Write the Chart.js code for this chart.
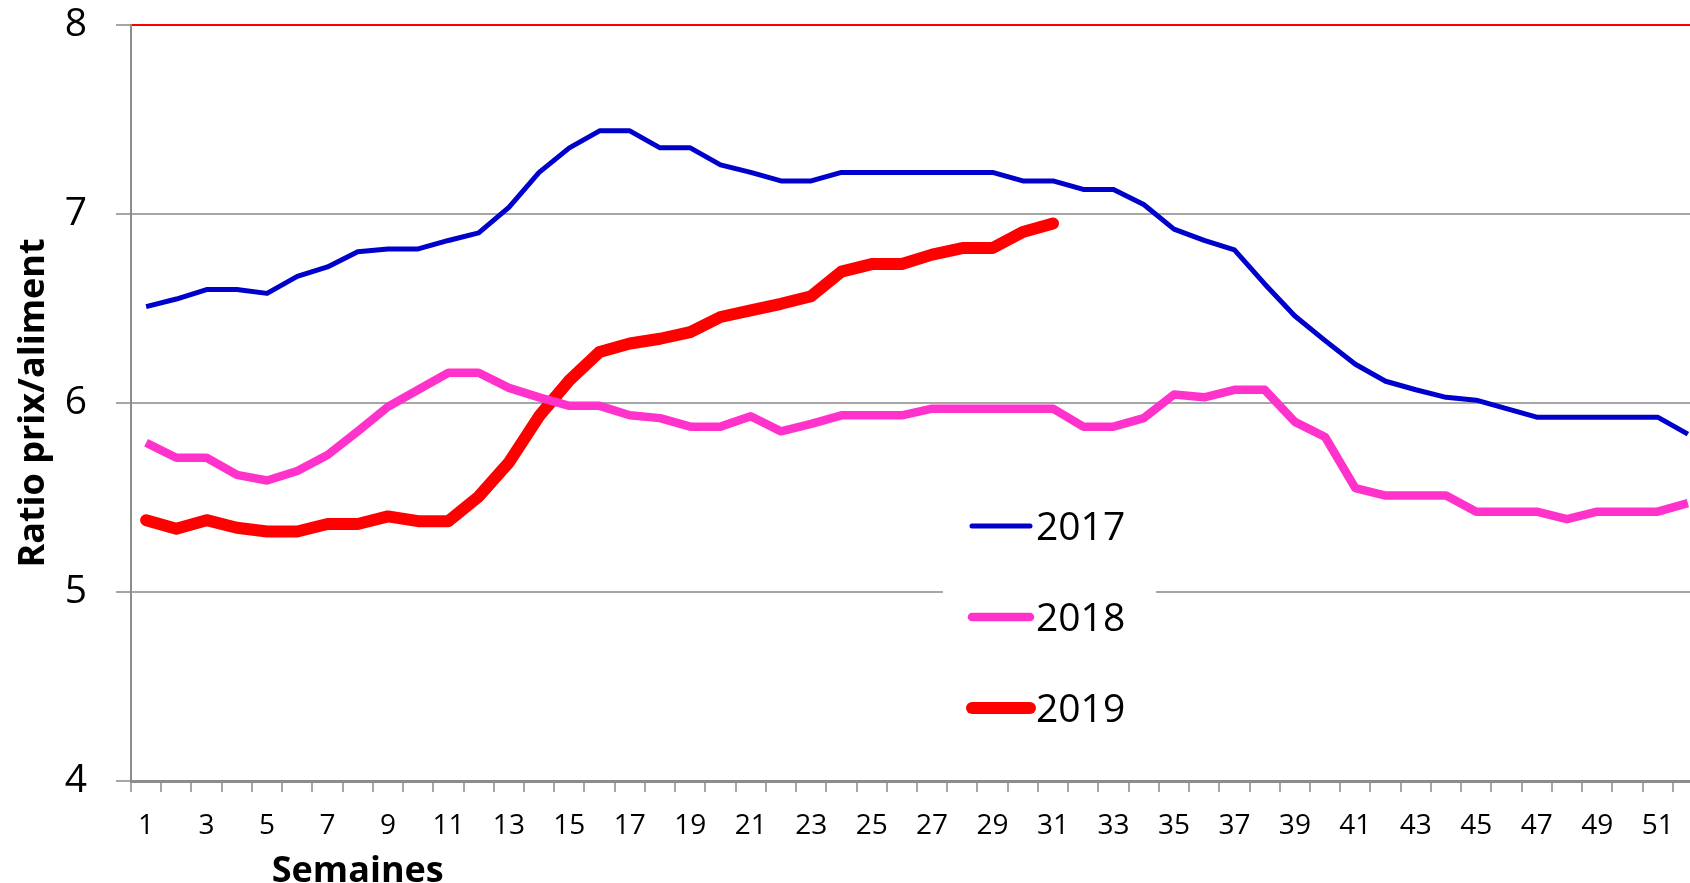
<!DOCTYPE html>
<html>
<head>
<meta charset="utf-8">
<script src="https://cdn.jsdelivr.net/npm/chart.js@4"></script>
<style>
  html, body { margin: 0; padding: 0; background: #fff; overflow: hidden; }
  #wrap { position: relative; width: 1720px; height: 883px; }
</style>
</head>
<body>
<div id="wrap"><canvas id="ratioChart" width="1720" height="883"></canvas></div>
<script>
// --- Data ---
const weeks = Array.from({ length: 52 }, (_, i) => String(i + 1));

const ratio2017 = [
  6.51, 6.55, 6.60, 6.60, 6.58, 6.67, 6.72, 6.80, 6.815, 6.815,
  6.86, 6.90, 7.035, 7.22, 7.35, 7.44, 7.44, 7.35, 7.35, 7.26,
  7.22, 7.175, 7.175, 7.22, 7.22, 7.22, 7.22, 7.22, 7.22, 7.175,
  7.175, 7.13, 7.13, 7.05, 6.92, 6.86, 6.81, 6.63, 6.46, 6.33,
  6.205, 6.115, 6.07, 6.03, 6.015, 5.97, 5.925, 5.925, 5.925, 5.925,
  5.925, 5.835
];

const ratio2018 = [
  5.79, 5.71, 5.71, 5.62, 5.59, 5.64, 5.725, 5.85, 5.98, 6.07,
  6.16, 6.16, 6.08, 6.03, 5.985, 5.985, 5.935, 5.92, 5.875, 5.875,
  5.93, 5.85, 5.89, 5.935, 5.935, 5.935, 5.97, 5.97, 5.97, 5.97,
  5.97, 5.875, 5.875, 5.92, 6.045, 6.03, 6.07, 6.07, 5.90, 5.82,
  5.55, 5.51, 5.51, 5.51, 5.425, 5.425, 5.425, 5.385, 5.425, 5.425,
  5.425, 5.47
];

const ratio2019 = [
  5.38, 5.335, 5.38, 5.34, 5.32, 5.32, 5.36, 5.36, 5.40, 5.375,
  5.375, 5.505, 5.685, 5.93, 6.12, 6.27, 6.315, 6.34, 6.375, 6.455,
  6.49, 6.525, 6.565, 6.695, 6.735, 6.735, 6.785, 6.82, 6.82, 6.905,
  6.95
];

const yTicks = [4, 5, 6, 7, 8];
const seriesNames = ["2017", "2018", "2019"];

const FONT = "'Open Sans', 'DejaVu Sans', sans-serif";

// --- Legend drawn inside the plot, like the original ---
const boxLegend = {
  id: "boxLegend",
  afterDatasetsDraw(chart) {
    const c = chart.ctx;
    const left = 943, right = 1156, top = 480, bottom = 750;
    const rowY = [526, 617, 708];
    c.save();
    c.fillStyle = "#fff";
    c.fillRect(left, top, right - left, bottom - top);
    chart.data.datasets.forEach((ds, i) => {
      c.strokeStyle = ds.borderColor;
      c.lineWidth = ds.borderWidth;
      c.lineCap = "round";
      c.beginPath();
      c.moveTo(972, rowY[i]);
      c.lineTo(1030, rowY[i]);
      c.stroke();
      c.fillStyle = "#000";
      c.font = "39px " + FONT;
      c.textBaseline = "alphabetic";
      c.textAlign = "left";
      c.fillText(ds.label, 1036, rowY[i] + 14);
    });
    c.restore();
  }
};

// --- "Semaines" sits under week 8, not centred ---
const xTitle = {
  id: "xTitle",
  afterDraw(chart) {
    const c = chart.ctx;
    const x = chart.scales.x.getPixelForValue(7);
    c.save();
    c.fillStyle = "#000";
    c.font = "bold 36px " + FONT;
    c.textAlign = "center";
    c.textBaseline = "alphabetic";
    c.fillText("Semaines", x, 882);
    c.restore();
  }
};

const ctx = document.getElementById("ratioChart").getContext("2d");

new Chart(ctx, {
  type: "line",
  data: {
    labels: weeks,
    datasets: [
      { label: seriesNames[0], data: ratio2017, borderColor: "#0000cc", borderWidth: 5 },
      { label: seriesNames[1], data: ratio2018, borderColor: "#ff33cc", borderWidth: 8.5 },
      { label: seriesNames[2], data: ratio2019, borderColor: "#ff0000", borderWidth: 12, borderCapStyle: "round" }
    ].map(d => Object.assign({ pointRadius: 0, tension: 0, fill: false, borderJoinStyle: "round" }, d))
  },
  options: {
    responsive: false,
    animation: false,
    devicePixelRatio: 1,
    layout: { padding: { top: 25, right: 17, bottom: 0, left: 0 } },
    plugins: {
      legend: { display: false },
      tooltip: { enabled: false }
    },
    scales: {
      x: {
        type: "category",
        offset: true,
        grid: {
          offset: true,
          drawOnChartArea: false,
          drawTicks: true,
          tickLength: 11,
          color: "#a6a6a6",
          lineWidth: 2
        },
        border: { color: "#8c8c8c", width: 3 },
        ticks: {
          autoSkip: false,
          maxRotation: 0,
          padding: 17,
          color: "#000",
          font: { family: FONT, size: 28 },
          callback: (val, idx) => (idx % 2 === 0 ? weeks[idx] : "")
        },
        afterFit: scale => {
          scale.height = 102;
          scale.paddingLeft = 0;
          scale.paddingRight = 0;
        }
      },
      y: {
        min: yTicks[0],
        max: yTicks[yTicks.length - 1],
        afterBuildTicks: scale => { scale.ticks = yTicks.map(v => ({ value: v })); },
        grid: {
          color: c => (c.tick && c.tick.value === 8 ? "#ff0000" : "#a6a6a6"),
          tickColor: "#a6a6a6",
          lineWidth: 2,
          tickLength: 15
        },
        border: { color: "#8c8c8c", width: 2 },
        ticks: {
          padding: 29,
          color: "#000",
          font: { family: FONT, size: 39 }
        },
        title: {
          display: true,
          text: "Ratio prix/aliment",
          color: "#000",
          font: { family: FONT, size: 36, weight: "bold" },
          padding: { top: 12, bottom: 0 }
        },
        afterFit: scale => {
          scale.width = 131;
          scale.paddingTop = 0;
          scale.paddingBottom = 0;
        }
      }
    }
  },
  plugins: [boxLegend, xTitle]
});
</script>
</body>
</html>
